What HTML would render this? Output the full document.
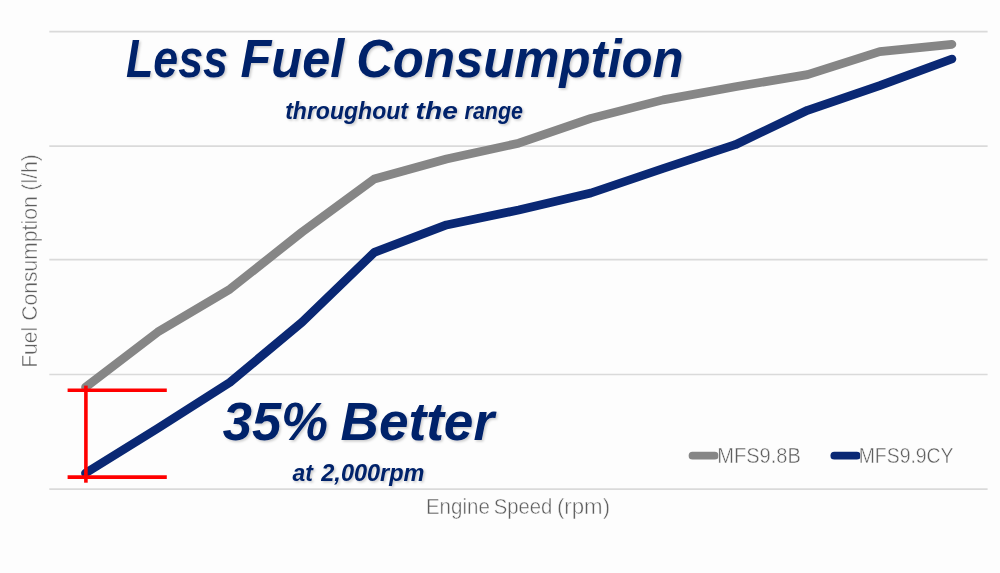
<!DOCTYPE html>
<html><head><meta charset="utf-8"><style>
html,body{margin:0;padding:0;background:#fdfdfd;width:1000px;height:573px;overflow:hidden}
svg{display:block;will-change:transform}
</style></head><body>
<svg width="1000" height="573" viewBox="0 0 1000 573">
<defs>
<filter id="sh" x="-5%" y="-30%" width="110%" height="160%"><feDropShadow dx="1.5" dy="1.5" stdDeviation="1" flood-color="#000" flood-opacity="0.2"/></filter>
</defs>
<rect width="1000" height="573" fill="#fdfdfd"/>
<g stroke="#dadada" stroke-width="1.7">
<line x1="49.3" y1="31.6" x2="987.6" y2="31.6"/>
<line x1="49.3" y1="146.2" x2="987.6" y2="146.2"/>
<line x1="49.3" y1="259.6" x2="987.6" y2="259.6"/>
<line x1="49.3" y1="374.5" x2="987.6" y2="374.5"/>
<line x1="49.3" y1="489.2" x2="987.6" y2="489.2"/>
</g>
<polyline points="85.5,387.3 157.7,332.1 229.9,289.2 302.1,232.0 374.3,179.0 446.5,159.0 518.7,143.2 590.9,118.4 663.1,99.9 735.3,86.7 807.5,74.6 879.7,51.7 951.9,44.3" fill="none" stroke="#868686" stroke-width="8.7" stroke-linecap="round" stroke-linejoin="round"/>
<polyline points="85.5,473.1 157.7,428.4 229.9,382.3 302.1,322.2 374.3,252.4 446.5,224.9 518.7,210.0 590.9,193.0 663.1,168.5 735.3,144.7 807.5,110.3 879.7,85.6 951.9,59.0" fill="none" stroke="#0a2874" stroke-width="8.7" stroke-linecap="round" stroke-linejoin="round"/>
<g stroke="#ff0000" stroke-width="3.6">
<line x1="67.6" y1="390.2" x2="166.8" y2="390.2"/>
<line x1="67.6" y1="477.1" x2="166.8" y2="477.1"/>
<line x1="85.9" y1="385.6" x2="85.9" y2="482.7"/>
</g>
<line x1="692.5" y1="455.7" x2="714.7" y2="455.7" stroke="#868686" stroke-width="7.7" stroke-linecap="round"/>
<line x1="834.3" y1="455.7" x2="856.8" y2="455.7" stroke="#0a2874" stroke-width="7.7" stroke-linecap="round"/>
<g font-family="Liberation Sans, sans-serif" fill="#06226a" font-weight="bold" font-style="italic" filter="url(#sh)">
<text x="126.00" y="77" font-size="54.5" textLength="101.99" lengthAdjust="spacingAndGlyphs">Less</text>
<text x="240.60" y="77" font-size="54.5" textLength="103.58" lengthAdjust="spacingAndGlyphs">Fuel</text>
<text x="356.17" y="77" font-size="54.5" textLength="327.52" lengthAdjust="spacingAndGlyphs">Consumption</text>
<text x="285.17" y="118.6" font-size="24.4" textLength="122.79" lengthAdjust="spacingAndGlyphs">throughout</text>
<text x="415.62" y="118.6" font-size="24.4" textLength="42.16" lengthAdjust="spacingAndGlyphs">the</text>
<text x="464.57" y="118.6" font-size="24.4" textLength="58.40" lengthAdjust="spacingAndGlyphs">range</text>
<text x="222.82" y="439.7" font-size="54.3" textLength="105.21" lengthAdjust="spacingAndGlyphs">35%</text>
<text x="340.59" y="439.7" font-size="54.3" textLength="153.48" lengthAdjust="spacingAndGlyphs">Better</text>
<text x="292.55" y="481.3" font-size="23.5" textLength="20.31" lengthAdjust="spacingAndGlyphs">at</text>
<text x="321.29" y="481.3" font-size="23.5" textLength="103.23" lengthAdjust="spacingAndGlyphs">2,000rpm</text>
</g>
<g font-family="Liberation Sans, sans-serif" fill="#5e5e5e" stroke="#fdfdfd" stroke-width="0.45">
<text x="425.89" y="513.9" font-size="21.2" textLength="63.95" lengthAdjust="spacingAndGlyphs">Engine</text>
<text x="493.73" y="513.9" font-size="21.2" textLength="58.69" lengthAdjust="spacingAndGlyphs">Speed</text>
<text x="556.90" y="513.9" font-size="21.2" textLength="53.20" lengthAdjust="spacingAndGlyphs">(rpm)</text>
<text x="717.22" y="463.2" font-size="21.2" textLength="83.69" lengthAdjust="spacingAndGlyphs">MFS9.8B</text>
<text x="858.70" y="463.2" font-size="21.2" textLength="94.89" lengthAdjust="spacingAndGlyphs">MFS9.9CY</text>
<text transform="translate(36.9,367.79) rotate(-90)" x="0" y="0" font-size="21.2" textLength="213.68" lengthAdjust="spacingAndGlyphs">Fuel Consumption (l/h)</text>
</g>
</svg>
</body></html>
